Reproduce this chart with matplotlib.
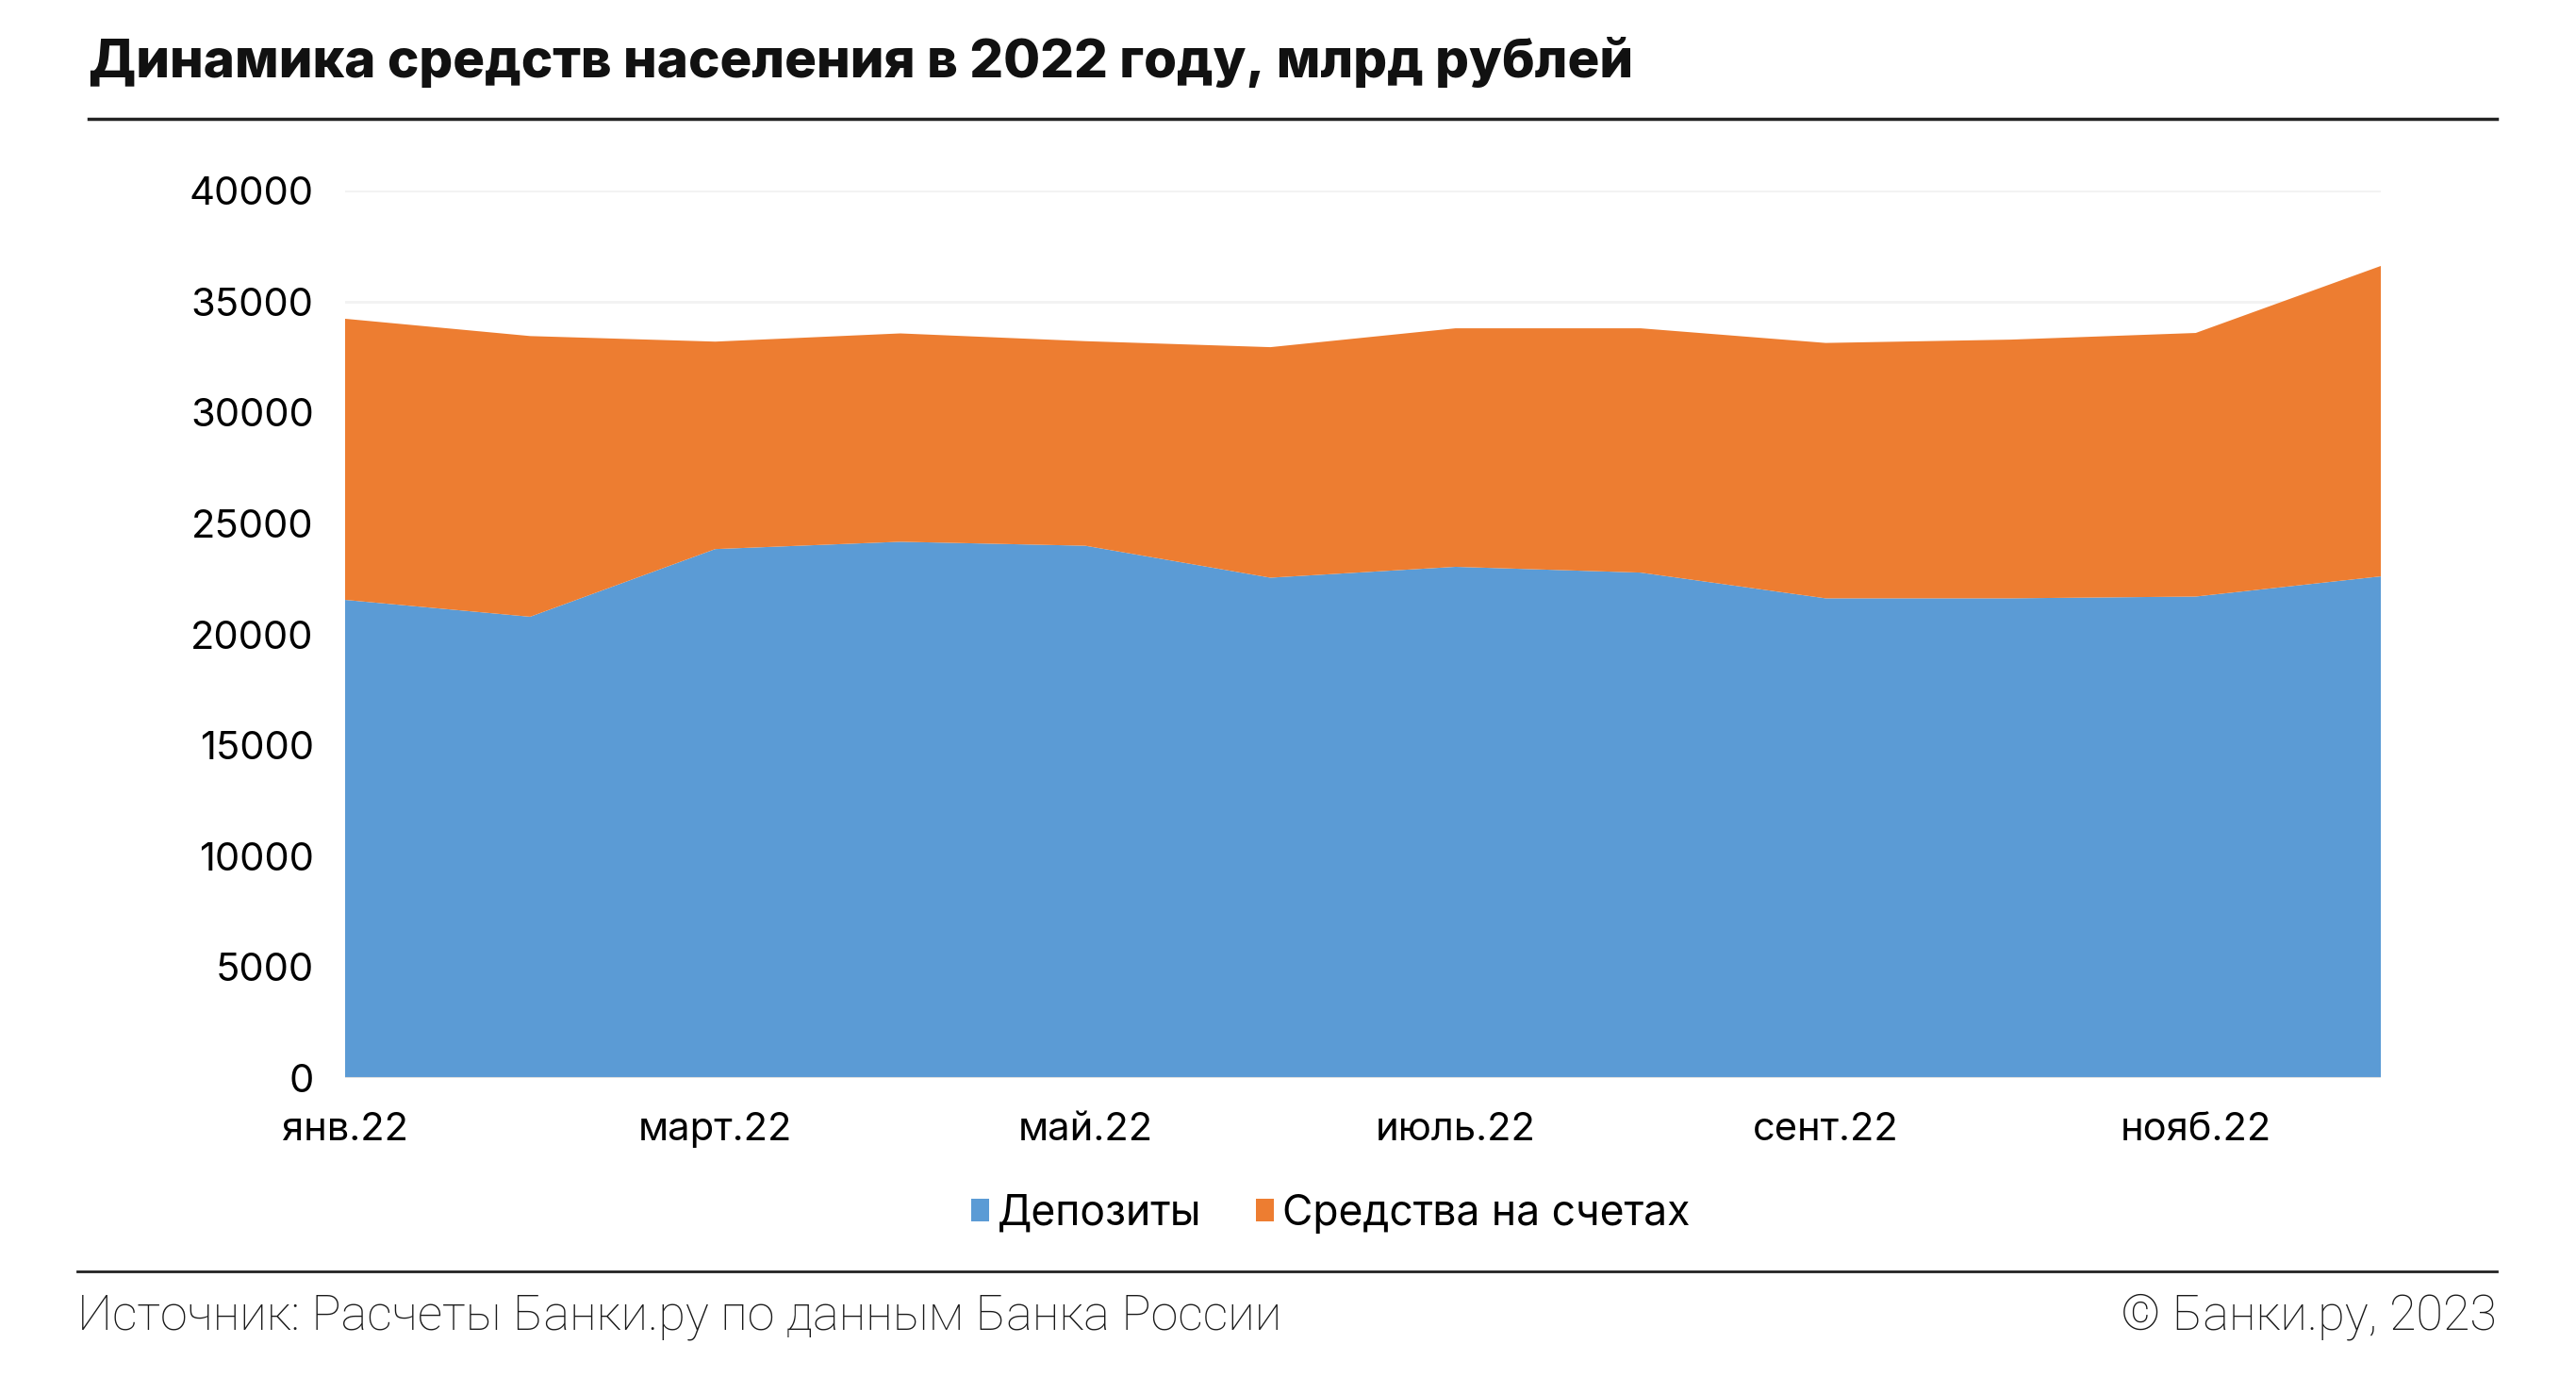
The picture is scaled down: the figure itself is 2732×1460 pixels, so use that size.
import matplotlib
matplotlib.use("Agg")
import matplotlib.pyplot as plt
from matplotlib.patches import Patch
from matplotlib.lines import Line2D

# Данные (млрд руб.)
months = ["янв.22", "февр.22", "март.22", "апр.22", "май.22", "июнь.22",
          "июль.22", "авг.22", "сент.22", "окт.22", "нояб.22", "дек.22"]
deposits = [21550, 20790, 23840, 24170, 23990, 22550,
            23040, 22780, 21620, 21620, 21700, 22610]
accounts = [12670, 12650, 9350, 9390, 9220, 10390,
            10750, 11010, 11510, 11660, 11880, 13990]
series_names = ["Депозиты", "Средства на счетах"]
y_ticks = [0, 5000, 10000, 15000, 20000, 25000, 30000, 35000, 40000]

BLUE = "#5B9BD5"
ORANGE = "#ED7D31"
FONT = "Inter"

W, H = 2732, 1460
fig = plt.figure(figsize=(W / 100, H / 100), dpi=100)
fig.patch.set_facecolor("white")

ax = fig.add_axes([366 / W, 1 - 1143 / H, (2525 - 366) / W, (1143 - 202) / H])
x = list(range(len(months)))
ax.stackplot(x, deposits, accounts, colors=[BLUE, ORANGE], linewidth=0, zorder=2)

ax.set_xlim(0, len(months) - 1)
ax.set_ylim(0, 40000)
ax.set_yticks(y_ticks)
ax.set_yticklabels([str(v) for v in y_ticks], fontfamily=FONT, fontsize=30)
ax.set_xticks(x[::2])
ax.set_xticklabels(months[::2], fontfamily=FONT, fontsize=30)
ax.tick_params(axis="both", length=0, colors="black")
ax.tick_params(axis="y", pad=24)
ax.tick_params(axis="x", pad=26)
ax.yaxis.grid(True, color="#f2f2f2", linewidth=2, zorder=0)
ax.set_axisbelow(True)
for s in ax.spines.values():
    s.set_visible(False)
ax.axhline(0, color="#e0e0e0", linewidth=1.5, zorder=3)

# заголовок и линии
fig.text(94 / W, 1 - 66 / H, "Динамика средств населения в 2022 году, млрд рублей",
         fontfamily=FONT, fontweight="heavy", fontsize=40.6, color="#111111",
         ha="left", va="center")
fig.add_artist(Line2D([94 / W, 2648 / W], [1 - 126 / H, 1 - 126 / H],
                      color="#222222", linewidth=2.5))
fig.add_artist(Line2D([82 / W, 2648 / W], [1 - 1348 / H, 1 - 1348 / H],
                      color="#222222", linewidth=2))

# легенда
handles = [Patch(facecolor=BLUE, edgecolor="none"),
           Patch(facecolor=ORANGE, edgecolor="none")]
fig.legend(handles, series_names, loc="center", bbox_to_anchor=(1411 / W, 1 - 1287 / H),
           ncol=2, frameon=False, prop={"family": FONT, "size": 32},
           handlelength=0.43, handleheight=0.43, handletextpad=0.2,
           columnspacing=1.3)

# подвал
fig.text(82 / W, 1 - 1396 / H, "Источник: Расчеты Банки.ру по данным Банка России",
         fontfamily="Roboto", fontweight="light", fontsize=37.5, color="#1a1a1a",
         ha="left", va="center")
fig.text(2648 / W, 1 - 1396 / H, "© Банки.ру, 2023",
         fontfamily="Roboto", fontweight="light", fontsize=37.5, color="#1a1a1a",
         ha="right", va="center")

fig.savefig("out.png", dpi=100, facecolor="white")
